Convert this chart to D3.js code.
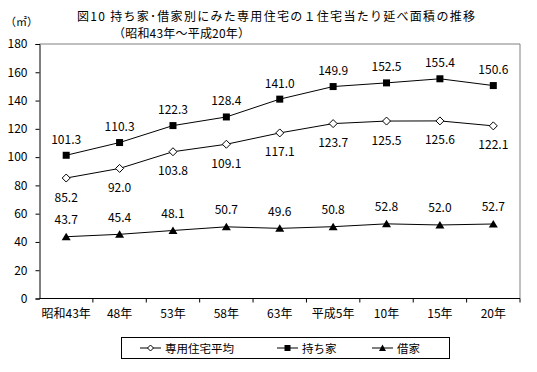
<!DOCTYPE html>
<html><head><meta charset="utf-8">
<script src="https://cdn.jsdelivr.net/npm/d3@7"></script>
<style>
body{margin:0;background:#fff;}
text{font-family:"Noto Sans CJK JP","Noto Sans",sans-serif;fill:#000;}
</style></head>
<body><svg id="c" width="537" height="372"></svg>
<script>
const categories = ["昭和43年","48年","53年","58年","63年","平成5年","10年","15年","20年"];
const avgValues = [85.2, 92.0, 103.8, 109.1, 117.1, 123.7, 125.5, 125.6, 122.1];
const ownValues = [101.3, 110.3, 122.3, 128.4, 141.0, 149.9, 152.5, 155.4, 150.6];
const rentValues = [43.7, 45.4, 48.1, 50.7, 49.6, 50.8, 52.8, 52.0, 52.7];
const yTicks = [0, 20, 40, 60, 80, 100, 120, 140, 160, 180];
const seriesNames = ["専用住宅平均", "持ち家", "借家"];

const svg = d3.select("#c");
const L = 39.5, R = 520, T = 44, B = 298.5;
const x = d3.scaleBand().domain(categories).range([L, R]);
const y = d3.scaleLinear().domain([0, 180]).range([B, T]);

// plot border (top/right gray)
svg.append("path").attr("d", `M${L},${T}H${R}V${B}`).attr("fill","none").attr("stroke","#808080").attr("stroke-width",1);

// y axis
const ya = svg.append("g").attr("transform", `translate(${L},0)`)
  .call(d3.axisLeft(y).tickValues(yTicks).tickSize(4).tickPadding(8).tickFormat(d3.format("d")));
ya.select(".domain").attr("stroke","#000");
ya.selectAll("text").attr("font-size", 12).attr("fill","#000");
ya.selectAll("line").attr("stroke","#000");

// x axis
const xa = svg.append("g").attr("transform", `translate(0,${B})`)
  .call(d3.axisBottom(x).tickSize(0).tickPadding(11));
xa.select(".domain").attr("stroke","#000").attr("d", `M${L},0H${R}`);
xa.selectAll("text").attr("font-size", 12).attr("fill","#000");
// band boundary ticks
svg.append("g").selectAll("line").data(categories.slice(1).concat(["__end"]))
  .join("line")
  .attr("x1", (d,i)=> i < categories.length-1 ? x(d) : R)
  .attr("x2", (d,i)=> i < categories.length-1 ? x(d) : R)
  .attr("y1", B).attr("y2", B+4).attr("stroke","#000");

const cx = d => x(d) + x.bandwidth()/2;
const line = d3.line().x((d,i)=>cx(categories[i])).y(d=>y(d));

function series(vals, marker, labelDy) {
  const g = svg.append("g");
  g.append("path").attr("d", line(vals)).attr("fill","none").attr("stroke","#000").attr("stroke-width",1);
  vals.forEach((v,i)=>{
    drawMarker(g, cx(categories[i]), y(v), marker);
    g.append("text").attr("x", cx(categories[i])).attr("y", y(v)+labelDy)
      .attr("text-anchor","middle").attr("dominant-baseline","central")
      .attr("font-size",12).text(v.toFixed(1));
  });
}
function drawMarker(g, px, py, m) {
  if (m === "diamond") {
    g.append("path").attr("d", `M${px},${py-4}L${px+4},${py}L${px},${py+4}L${px-4},${py}Z`)
      .attr("fill","#fff").attr("stroke","#000").attr("stroke-width",1);
  } else if (m === "square") {
    g.append("rect").attr("x", px-3.5).attr("y", py-3.5).attr("width",7).attr("height",7).attr("fill","#000");
  } else {
    g.append("path").attr("d", `M${px},${py-4}L${px+4.5},${py+3.5}L${px-4.5},${py+3.5}Z`).attr("fill","#000");
  }
}
series(avgValues, "diamond", 18);
series(ownValues, "square", -17);
series(rentValues, "triangle", -18);

// title
svg.append("text").attr("x", 77).attr("y", 15.5).attr("dominant-baseline","central").attr("font-size",12)
  .attr("textLength", 398).attr("lengthAdjust","spacing")
  .text("図10  持ち家･借家別にみた専用住宅の１住宅当たり延べ面積の推移");
svg.append("text").attr("x", 113).attr("y", 32.5).attr("dominant-baseline","central").attr("font-size",12)
  .attr("textLength", 137).attr("lengthAdjust","spacing")
  .text("（昭和43年～平成20年）");
svg.append("text").attr("x", 5).attr("y", 21).attr("dominant-baseline","central").attr("font-size",11)
  .text("（㎡）");

// legend
const lg = svg.append("g");
lg.append("rect").attr("x",121.5).attr("y",337.5).attr("width",328).attr("height",21).attr("fill","#fff").attr("stroke","#000");
const legendItems = [
  {name: seriesNames[0], m:"diamond", x:140},
  {name: seriesNames[1], m:"square", x:277},
  {name: seriesNames[2], m:"triangle", x:372}
];
legendItems.forEach(it=>{
  const ly = 348;
  lg.append("line").attr("x1",it.x).attr("x2",it.x+21).attr("y1",ly).attr("y2",ly).attr("stroke","#000");
  if (it.m === "diamond") {
    lg.append("path").attr("d", `M${it.x+10.5},${ly-3}L${it.x+13.5},${ly}L${it.x+10.5},${ly+3}L${it.x+7.5},${ly}Z`).attr("fill","#fff").attr("stroke","#000");
  } else if (it.m === "square") {
    lg.append("rect").attr("x",it.x+7.5).attr("y",ly-3).attr("width",6).attr("height",6).attr("fill","#000");
  } else {
    lg.append("path").attr("d", `M${it.x+10.5},${ly-3.5}L${it.x+14},${ly+3}L${it.x+7},${ly+3}Z`).attr("fill","#000");
  }
  lg.append("text").attr("x", it.x+25).attr("y", ly).attr("dominant-baseline","central").attr("font-size",11.5).text(it.name);
});
</script></body></html>
